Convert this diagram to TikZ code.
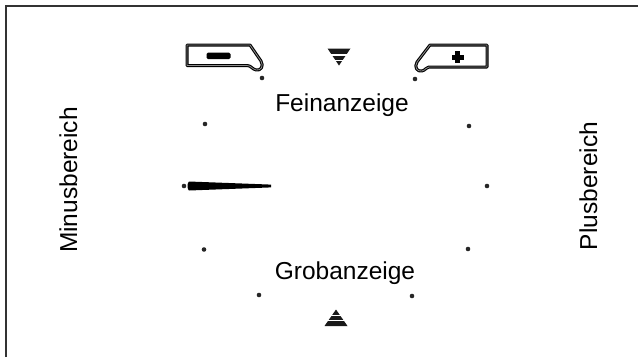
\documentclass[tikz,border=0pt]{standalone}
\usepackage{fontspec}
\setmainfont{Liberation Sans}
\begin{document}
\begin{tikzpicture}[x=1pt,y=-1pt,
  lbl/.style={font=\fontsize{24.5}{29}\selectfont, inner sep=0pt, anchor=base},
  tick/.style={fill=black!85, draw=none},
  btn/.style={draw=black, line width=1.1pt, double=black!45, double distance=0.8pt, line join=round},
  gap/.style={draw=white, line width=1.1pt}]
\useasboundingbox (0,0) rectangle (638,357);
% frame (top and left edges)
\draw[black!80, line width=1.6pt] (5.8,357) -- (5.8,5.8) -- (638,5.8);

% labels
\node[lbl] (fein) at (342,111.7) {Feinanzeige};
\node[lbl] (grob) at (345,279) {Grobanzeige};
\node[lbl, rotate=90] (minus) at (77,180) {Minusbereich};
\node[lbl, rotate=90] (plus) at (597,186) {Plusbereich};

% scale dots
\foreach \n/\p in {d1/{(262,78)}, d2/{(415,79)}, d3/{(205,124)}, d4/{(469,126)},
                   d5/{(184,186)}, d6/{(487,186)}, d7/{(204,249.5)}, d8/{(468,249)},
                   d9/{(259,295)}, d10/{(412,296)}}
  \fill[tick] \p circle (2.3);

% pointer
\fill[black] (189,181.5) -- (271,184.6) -- (271,187.4) -- (189,190.5)
   .. controls (187,189.5) and (187,182.5) .. (189,181.5) -- cycle;

% top marker (down triangle)
\fill[black!90] (327.5,48.5) -- (350.5,48.5) -- (339,65.5) -- cycle;
\draw[gap] (325,55) -- (353,55);
\draw[gap] (325,60.2) -- (353,60.2);

% bottom marker (up triangle)
\fill[black!90] (324.5,326) -- (347.5,326) -- (336,309.5) -- cycle;
\draw[gap] (322,315.2) -- (350,315.2);
\draw[gap] (322,320.8) -- (350,320.8);

% minus button
\draw[btn] (187,45) -- (250,45) -- (261,61)
  .. controls (264,66) and (261,71) .. (256,70)
  .. controls (252,69) and (251,65.5) .. (247,65.5) -- (187,65.5) -- cycle;
\fill[black, rounded corners=1.5pt] (206.5,52.5) rectangle (230.5,59);

% plus button
\draw[btn] (487,45) -- (430,45) -- (417,62)
  .. controls (414,67) and (417,72) .. (422,71)
  .. controls (426,70) and (426,67) .. (429,67) -- (487,67) -- cycle;
\fill[black] (455,51) rectangle (460,63);
\fill[black] (451.5,54.5) rectangle (463.5,59.5);
\end{tikzpicture}
\end{document}
